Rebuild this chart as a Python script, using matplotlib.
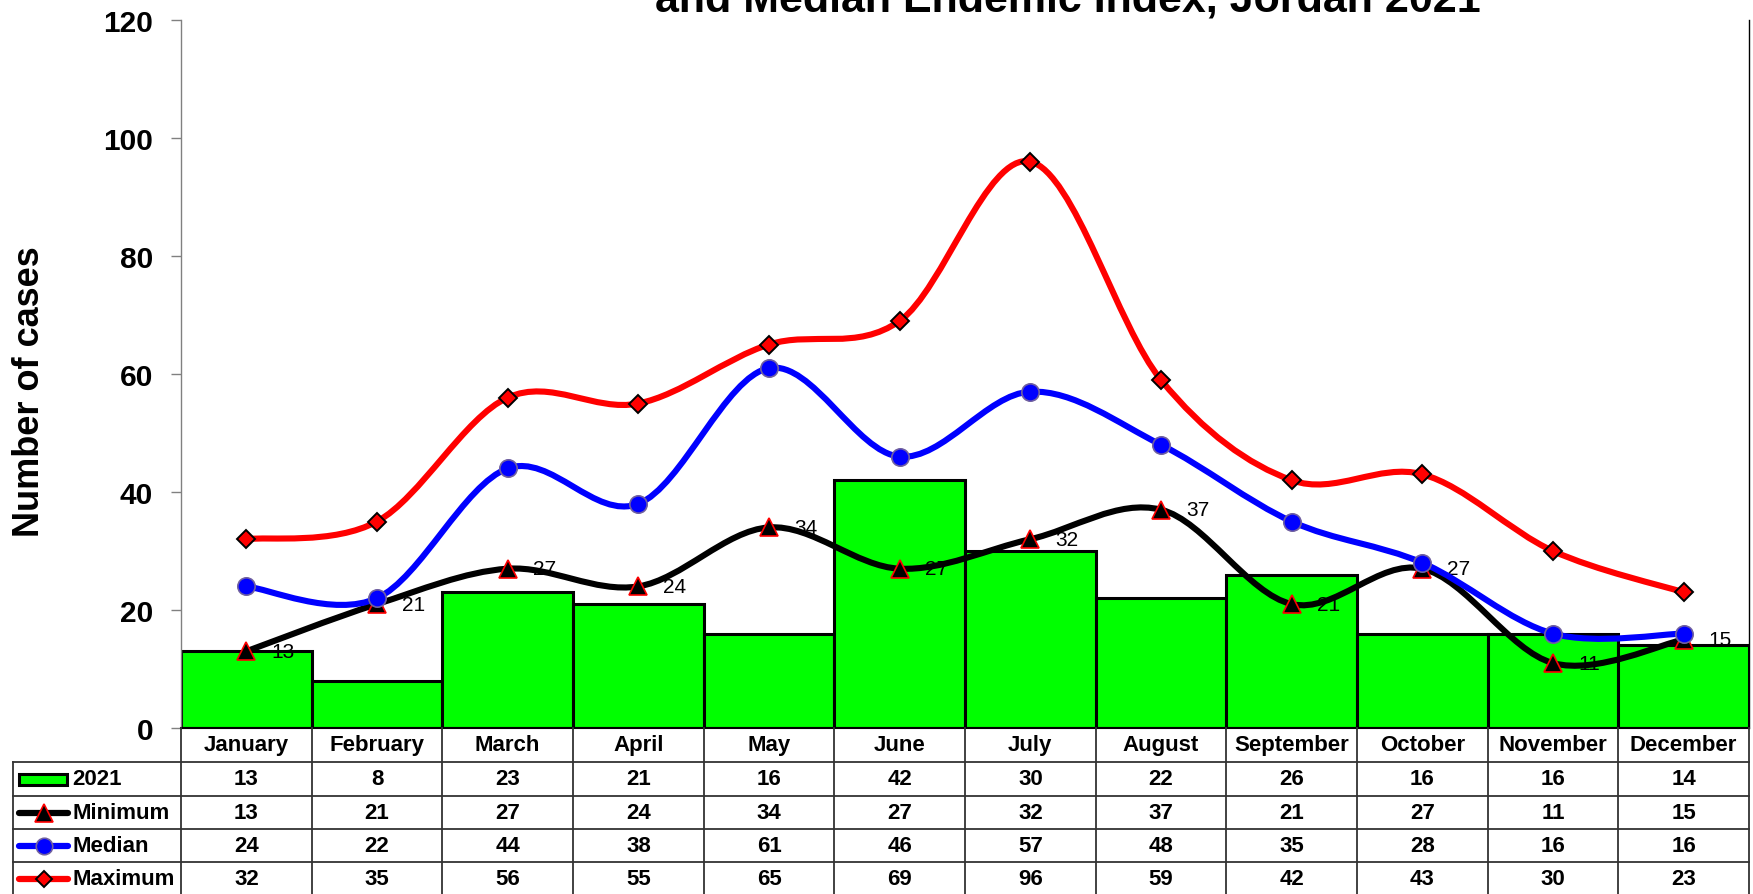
import numpy as np
import matplotlib
matplotlib.use('Agg')
import matplotlib.pyplot as plt
from matplotlib.path import Path
from matplotlib.patches import PathPatch, Rectangle
from matplotlib.lines import Line2D
import matplotlib.transforms as mtransforms

# ---------------- data ----------------
months = ['January', 'February', 'March', 'April', 'May', 'June', 'July',
          'August', 'September', 'October', 'November', 'December']
cases_2021 = [13, 8, 23, 21, 16, 42, 30, 22, 26, 16, 16, 14]
minimum = [13, 21, 27, 24, 34, 27, 32, 37, 21, 27, 11, 15]
median = [24, 22, 44, 38, 61, 46, 57, 48, 35, 28, 16, 16]
maximum = [32, 35, 56, 55, 65, 69, 96, 59, 42, 43, 30, 23]
yticks = [0, 20, 40, 60, 80, 100, 120]
title_line = 'and Median Endemic Index, Jordan 2021'
ylabel = 'Number of cases'
row_labels = ['2021', 'Minimum', 'Median', 'Maximum']

plt.rcParams['font.family'] = ['Liberation Sans', 'DejaVu Sans']

W, H = 1753, 895
fig = plt.figure(figsize=(W / 100, H / 100), dpi=100)


def fx(p):
    return p / W


def fy(p):
    return 1 - p / H


AX_L, AX_R, AX_T, AX_B = 181, 1749, 21, 729
ax = fig.add_axes([fx(AX_L), fy(AX_B), (AX_R - AX_L) / W, (AX_B - AX_T) / H])

x = np.arange(len(months))
ax.bar(x, cases_2021, width=1.0, color='#00FF00', edgecolor='black',
       linewidth=2.2, zorder=2)


def smooth_path(xs, ys):
    pts = np.column_stack([xs, ys]).astype(float)
    n = len(pts)
    verts = [pts[0]]
    codes = [Path.MOVETO]
    for i in range(n - 1):
        p0 = pts[i - 1] if i > 0 else pts[i]
        p1 = pts[i]
        p2 = pts[i + 1]
        p3 = pts[i + 2] if i + 2 < n else pts[i + 1]
        c1 = p1 + (p2 - p0) / 6.0
        c2 = p2 - (p3 - p1) / 6.0
        verts += [c1, c2, p2]
        codes += [Path.CURVE4] * 3
    return Path(verts, codes)


series = [
    (minimum, 'black', '^', 'black', 'red', 13, 1.2),
    (median, '#0000FF', 'o', '#0000FF', '#7060A0', 12.5, 1.2),
    (maximum, '#FF0000', 'D', '#FF0000', 'black', 9, 1.4),
]
z = 4
for vals, col, mk, mfc, mec, ms, mew in series:
    patch = PathPatch(smooth_path(x, vals), facecolor='none', edgecolor=col,
                      lw=4.4, capstyle='round', joinstyle='round', zorder=z)
    ax.add_patch(patch)
    ax.plot(x, vals, linestyle='none', marker=mk, markersize=ms,
            markerfacecolor=mfc, markeredgecolor=mec, markeredgewidth=mew,
            zorder=z + 0.5, clip_on=False)
    z += 1

# data labels for Minimum
for i, v in enumerate(minimum):
    ax.annotate(str(v), (i, v), xytext=(18, 0), textcoords='offset points',
                ha='left', va='center', fontsize=15, color='black', zorder=3.5)

ax.set_xlim(-0.5, 11.5)
ax.set_ylim(0, 120)
ax.set_xticks([])
ax.set_yticks(yticks)
ax.set_yticklabels([str(t) for t in yticks], fontsize=21.5, fontweight='bold')
ax.tick_params(axis='y', direction='out', length=7, width=1, color='#808080', pad=13)
ax.spines['top'].set_visible(False)
ax.spines['left'].set_color('#808080')
ax.spines['left'].set_linewidth(1)
ax.spines['right'].set_color('black')
ax.spines['right'].set_linewidth(1)
ax.spines['bottom'].set_linewidth(1.5)

fig.text(fx(30), fy(392), ylabel, rotation=90, ha='center', va='center',
         fontsize=26, fontweight='bold')
fig.text(fx(1068), fy(12), title_line, ha='center', va='baseline',
         fontsize=31, fontweight='bold')

# ---------------- data table ----------------
trans = mtransforms.blended_transform_factory(ax.transData, fig.transFigure)
tcol = '#333333'
tlw = 1.3
row_edges = [729, 763, 797, 830, 863, 897]
for b in np.arange(-0.5, 12.0, 1.0):
    fig.add_artist(Line2D([b, b], [fy(row_edges[0]), fy(row_edges[-1])],
                          transform=trans, color=tcol, lw=tlw))
for yy in row_edges[1:-1]:
    fig.add_artist(Line2D([fx(13), fx(AX_R)], [fy(yy), fy(yy)],
                          transform=fig.transFigure, color=tcol, lw=tlw))
fig.add_artist(Line2D([fx(13), fx(13)], [fy(row_edges[1]), fy(row_edges[-1])],
                      transform=fig.transFigure, color=tcol, lw=tlw))

hdr_y = (row_edges[0] + row_edges[1]) / 2
for i, m in enumerate(months):
    fig.text(i, fy(hdr_y), m, transform=trans, ha='center', va='center',
             fontsize=16, fontweight='bold')

table_rows = [cases_2021, minimum, median, maximum]
for r, vals in enumerate(table_rows):
    yc = (row_edges[r + 1] + row_edges[r + 2]) / 2
    for i, v in enumerate(vals):
        fig.text(i, fy(yc), str(v), transform=trans, ha='center', va='center',
                 fontsize=16, fontweight='bold')
    fig.text(fx(72), fy(yc), row_labels[r], ha='left', va='center',
             fontsize=16, fontweight='bold')
    if r == 0:
        fig.add_artist(Rectangle((fx(19), fy(yc + 5.5)), fx(48), 11 / H,
                                 facecolor='#00FF00', edgecolor='black', lw=2.2,
                                 transform=fig.transFigure))
    else:
        vals_s, col, mk, mfc, mec, ms, mew = series[r - 1]
        fig.add_artist(Line2D([fx(19), fx(68)], [fy(yc), fy(yc)], color=col,
                              lw=4.5, solid_capstyle='round',
                              transform=fig.transFigure))
        fig.add_artist(Line2D([fx(43.5)], [fy(yc)], linestyle='none', marker=mk,
                              markersize=ms * 0.95, markerfacecolor=mfc,
                              markeredgecolor=mec, markeredgewidth=mew,
                              transform=fig.transFigure))

fig.savefig('out.png', dpi=100)
